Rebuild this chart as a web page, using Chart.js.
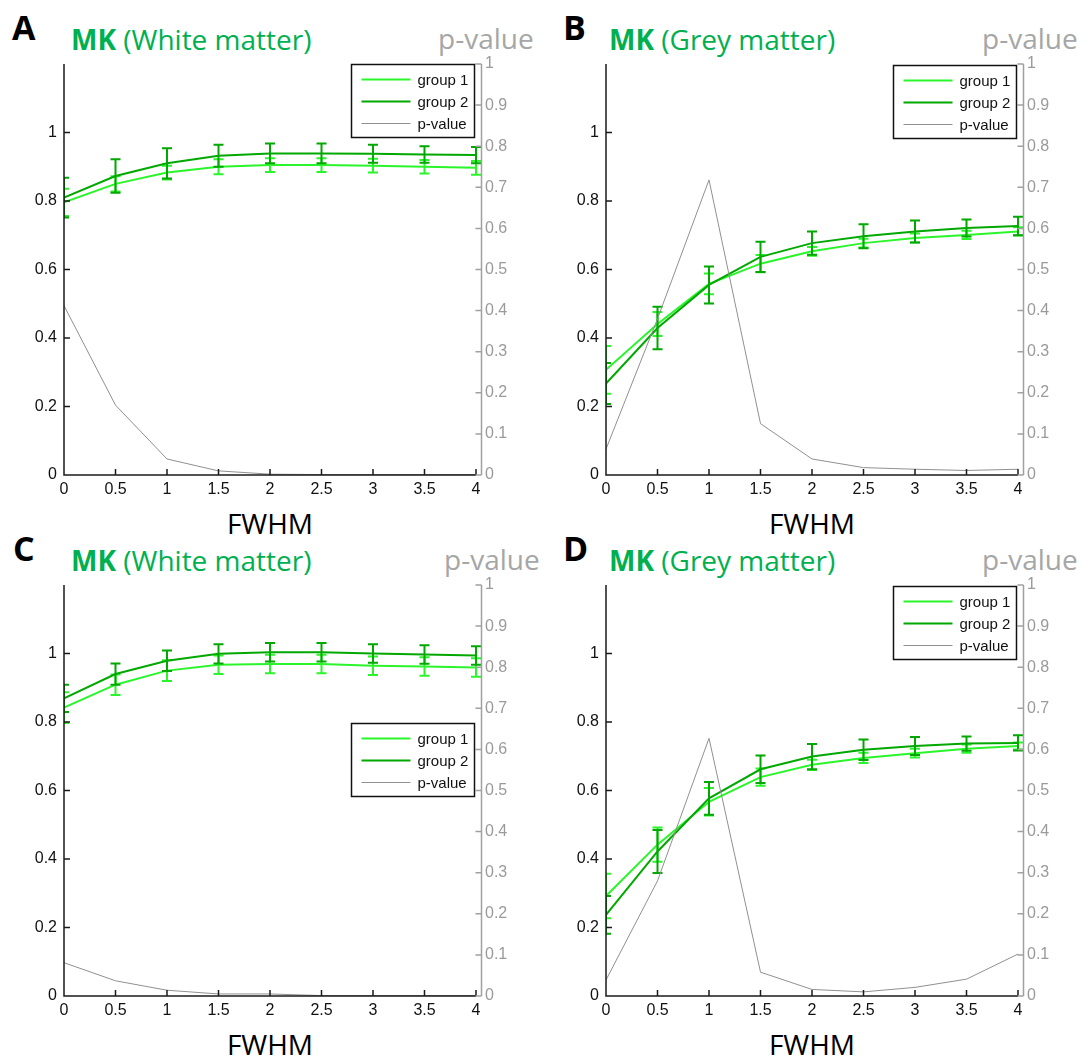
<!DOCTYPE html>
<html>
<head>
<meta charset="utf-8">
<script src="https://cdn.jsdelivr.net/npm/chart.js@4.4.1/dist/chart.umd.min.js"></script>
<style>
  body { margin: 0; background: #fff; }
  #fig { position: relative; width: 1081px; height: 1059px; overflow: hidden; font-family: 'Open Sans', sans-serif; }
  #fig canvas { position: absolute; }
  .letter { position: absolute; font-weight: 700; font-size: 34px; line-height: 1; color: #000; }
  .title { position: absolute; font-size: 28px; line-height: 1; color: #00b050; white-space: nowrap; }
  .title b { font-weight: 700; }
  .pv { position: absolute; font-size: 28px; line-height: 1; color: #a6a6a6; white-space: nowrap; }
  .xlab { position: absolute; width: 200px; text-align: center; font-size: 28px; line-height: 1; color: #000; }
</style>
</head>
<body>
<div id="fig"></div>
<script>
// FWHM smoothing kernel (x axis)
const fwhm = [0, 0.5, 1, 1.5, 2, 2.5, 3, 3.5, 4];
const xTicks = [0, 0.5, 1, 1.5, 2, 2.5, 3, 3.5, 4];
const leftTicks = [0, 0.2, 0.4, 0.6, 0.8, 1];
const rightTicks = [0, 0.1, 0.2, 0.3, 0.4, 0.5, 0.6, 0.7, 0.8, 0.9, 1];
const legendLabels = ['group 1', 'group 2', 'p-value'];

// A - MK, white matter
const aGroup1 = [0.796, 0.850, 0.883, 0.900, 0.905, 0.905, 0.903, 0.900, 0.897];
const aGroup1Err = [0.040, 0.022, 0.020, 0.022, 0.020, 0.020, 0.020, 0.020, 0.020];
const aGroup2 = [0.810, 0.873, 0.910, 0.932, 0.939, 0.939, 0.938, 0.936, 0.934];
const aGroup2Err = [0.058, 0.049, 0.044, 0.032, 0.029, 0.029, 0.026, 0.024, 0.024];
const aPValue = [0.412, 0.170, 0.039, 0.010, 0.002, 0.001, 0.001, 0.001, 0.001];

// B - MK, grey matter
const bGroup1 = [0.307, 0.441, 0.558, 0.617, 0.653, 0.677, 0.692, 0.701, 0.711];
const bGroup1Err = [0.070, 0.035, 0.030, 0.025, 0.013, 0.013, 0.013, 0.012, 0.012];
const bGroup2 = [0.267, 0.429, 0.555, 0.637, 0.677, 0.697, 0.711, 0.721, 0.727];
const bGroup2Err = [0.060, 0.062, 0.054, 0.044, 0.034, 0.035, 0.032, 0.025, 0.027];
const bPValue = [0.063, 0.380, 0.718, 0.125, 0.039, 0.018, 0.014, 0.011, 0.014];

// C - MK, white matter
const cGroup1 = [0.842, 0.909, 0.950, 0.967, 0.969, 0.969, 0.964, 0.962, 0.959];
const cGroup1Err = [0.045, 0.030, 0.030, 0.027, 0.027, 0.027, 0.027, 0.027, 0.027];
const cGroup2 = [0.869, 0.940, 0.979, 0.999, 1.004, 1.004, 1.000, 0.997, 0.994];
const cGroup2Err = [0.040, 0.031, 0.030, 0.028, 0.027, 0.027, 0.027, 0.027, 0.027];
const cPValue = [0.081, 0.037, 0.014, 0.005, 0.005, 0.001, 0.001, 0.001, 0.001];

// D - MK, grey matter
const dGroup1 = [0.292, 0.442, 0.567, 0.639, 0.675, 0.695, 0.709, 0.722, 0.730];
const dGroup1Err = [0.065, 0.050, 0.040, 0.025, 0.015, 0.015, 0.013, 0.012, 0.010];
const dGroup2 = [0.237, 0.422, 0.577, 0.662, 0.699, 0.719, 0.730, 0.737, 0.739];
const dGroup2Err = [0.055, 0.063, 0.048, 0.040, 0.037, 0.030, 0.026, 0.021, 0.022];
const dPValue = [0.039, 0.280, 0.627, 0.058, 0.016, 0.010, 0.021, 0.041, 0.102];

const G1 = '#2af52a';
const G2 = '#00a800';
const PV = '#909090';
const TICK_FONT = { family: "'Liberation Sans', Arial, sans-serif", size: 16 };

// canvas geometry (plot box inside each canvas)
const W = 539, H = 520;
const PLOT = { left: 64, top: 64, right: 476, bottom: 475 };

const panels = [
  { id: 'A', dx: 0,   dy: 0,   letterX: 12,  titleX: 71,  pvX: 438,  title: 'White matter', g1: aGroup1, e1: aGroup1Err, g2: aGroup2, e2: aGroup2Err, pv: aPValue, legendTop: 0 },
  { id: 'B', dx: 542, dy: 0,   letterX: 563, titleX: 609, pvX: 982,  title: 'Grey matter',  g1: bGroup1, e1: bGroup1Err, g2: bGroup2, e2: bGroup2Err, pv: bPValue, legendTop: 1 },
  { id: 'C', dx: 0,   dy: 521, letterX: 13,  titleX: 71,  pvX: 444,  title: 'White matter', g1: cGroup1, e1: cGroup1Err, g2: cGroup2, e2: cGroup2Err, pv: cPValue, legendTop: 138 },
  { id: 'D', dx: 542, dy: 521, letterX: 563, titleX: 609, pvX: 982,  title: 'Grey matter',  g1: dGroup1, e1: dGroup1Err, g2: dGroup2, e2: dGroup2Err, pv: dPValue, legendTop: 1 },
];

function pts(vals) { return fwhm.map((x, i) => ({ x: x, y: vals[i] })); }

// vertical error bars with caps, drawn right after their own line
const errorBars = {
  id: 'errorBars',
  afterDatasetDraw(chart, args) {
    const ds = chart.data.datasets[args.index];
    if (!ds.errors) return;
    const { ctx, chartArea } = chart;
    const xs = chart.scales.x, ys = chart.scales[ds.yAxisID];
    ctx.save();
    ctx.beginPath();
    ctx.rect(chartArea.left, chartArea.top - 20, chartArea.right - chartArea.left + 10, chartArea.bottom - chartArea.top + 40);
    ctx.clip();
    ctx.strokeStyle = ds.borderColor;
    ctx.lineWidth = 2;
    ctx.beginPath();
    ds.data.forEach((p, i) => {
      const px = xs.getPixelForValue(p.x);
      const hi = ys.getPixelForValue(p.y + ds.errors[i]);
      const lo = ys.getPixelForValue(p.y - ds.errors[i]);
      ctx.moveTo(px, hi); ctx.lineTo(px, lo);
      ctx.moveTo(px - 5, hi); ctx.lineTo(px + 5, hi);
      ctx.moveTo(px - 5, lo); ctx.lineTo(px + 5, lo);
    });
    ctx.stroke();
    ctx.restore();
  }
};

// matlab-style axes: black left/bottom, grey right axis, inward ticks
const axesFrame = {
  id: 'axesFrame',
  afterDraw(chart) {
    const { ctx, chartArea: { left, right, top, bottom } } = chart;
    const xs = chart.scales.x, ys = chart.scales.y, y1 = chart.scales.y1;
    ctx.save();
    ctx.lineWidth = 1.5;
    ctx.strokeStyle = '#1a1a1a';
    ctx.beginPath();
    ctx.moveTo(left, top); ctx.lineTo(left, bottom); ctx.lineTo(right, bottom);
    leftTicks.forEach(v => { const py = ys.getPixelForValue(v); ctx.moveTo(left, py); ctx.lineTo(left + 6, py); });
    xTicks.forEach(v => { const px = xs.getPixelForValue(v); ctx.moveTo(px, bottom); ctx.lineTo(px, bottom - 6); });
    ctx.stroke();
    const rx = right + 5.5;
    ctx.strokeStyle = '#a0a0a0';
    ctx.beginPath();
    ctx.moveTo(rx, top); ctx.lineTo(rx, bottom);
    rightTicks.forEach(v => { const py = y1.getPixelForValue(v); ctx.moveTo(rx, py); ctx.lineTo(rx - 6, py); });
    ctx.stroke();
    ctx.restore();
  }
};

// boxed legend in the upper right of the plot
const boxLegend = {
  id: 'boxLegend',
  afterDraw(chart, args, opts) {
    const { ctx, chartArea } = chart;
    const bw = 123, bh = 73;
    const bx = Math.round(chartArea.right - 2 - bw) + 0.5;
    const by = Math.round(chartArea.top + opts.top) + 0.5;
    ctx.save();
    ctx.fillStyle = '#fff';
    ctx.fillRect(bx, by, bw, bh);
    ctx.lineWidth = 1.5;
    ctx.strokeStyle = '#111';
    ctx.strokeRect(bx, by, bw, bh);
    ctx.font = "15px 'Liberation Sans', Arial, sans-serif";
    ctx.textBaseline = 'middle';
    ctx.fillStyle = '#111';
    chart.data.datasets.forEach((ds, i) => {
      const ly = by + 15 + i * 22;
      ctx.strokeStyle = ds.borderColor;
      ctx.lineWidth = ds.borderWidth;
      ctx.beginPath(); ctx.moveTo(bx + 10, ly); ctx.lineTo(bx + 59, ly); ctx.stroke();
      ctx.fillText(legendLabels[i], bx + 66, ly + 1);
    });
    ctx.restore();
  }
};

function fixedTicks(arr) { return s => { s.ticks = arr.map(v => ({ value: v })); }; }

const fig = document.getElementById('fig');
panels.forEach(p => {
  fig.insertAdjacentHTML('beforeend',
    '<div class="letter" style="left:' + p.letterX + 'px;top:' + (p.dy + 10) + 'px">' + p.id + '</div>' +
    '<div class="title" style="left:' + p.titleX + 'px;top:' + (p.dy + 24.5) + 'px"><b>MK</b> (' + p.title + ')</div>' +
    '<div class="pv" style="left:' + p.pvX + 'px;top:' + (p.dy + 23.5) + 'px">p-value</div>' +
    '<div class="xlab" style="left:' + (p.dx + 270 - 100) + 'px;top:' + (p.dy + 509) + 'px">FWHM</div>' +
    '<canvas id="c' + p.id + '" width="' + W + '" height="' + H + '" style="left:' + p.dx + 'px;top:' + p.dy + 'px"></canvas>');
});

panels.forEach(p => {
  new Chart(document.getElementById('c' + p.id), {
    type: 'line',
    data: {
      datasets: [
        { label: 'group 1', data: pts(p.g1), errors: p.e1, borderColor: G1, borderWidth: 2, yAxisID: 'y', order: 3 },
        { label: 'group 2', data: pts(p.g2), errors: p.e2, borderColor: G2, borderWidth: 2, yAxisID: 'y', order: 2 },
        { label: 'p-value', data: pts(p.pv), borderColor: PV, borderWidth: 1, yAxisID: 'y1', order: 1 },
      ],
    },
    options: {
      responsive: false, animation: false, devicePixelRatio: 1,
      layout: { padding: { top: PLOT.top, left: 0, right: 0, bottom: 0 } },
      elements: { point: { radius: 0 }, line: { tension: 0, fill: false } },
      scales: {
        x: {
          type: 'linear', min: 0, max: 4,
          afterBuildTicks: fixedTicks(xTicks),
          afterFit: s => { s.height = H - PLOT.bottom; },
          grid: { display: false, drawTicks: false }, border: { display: false },
          ticks: { padding: 5, color: '#111', font: TICK_FONT, maxRotation: 0, autoSkip: false, callback: v => String(v) },
        },
        y: {
          position: 'left', min: 0, max: 1.2,
          afterBuildTicks: fixedTicks(leftTicks),
          afterFit: s => { s.width = PLOT.left; },
          grid: { display: false, drawTicks: false }, border: { display: false },
          ticks: { padding: 7, color: '#111', font: TICK_FONT, autoSkip: false, callback: v => String(v) },
        },
        y1: {
          position: 'right', min: 0, max: 1,
          afterBuildTicks: fixedTicks(rightTicks),
          afterFit: s => { s.width = W - PLOT.right; },
          grid: { display: false, drawTicks: false }, border: { display: false },
          ticks: { padding: 9, color: '#9a9a9a', font: TICK_FONT, autoSkip: false, callback: v => String(v) },
        },
      },
      plugins: { legend: { display: false }, tooltip: { enabled: false }, boxLegend: { top: p.legendTop } },
    },
    plugins: [errorBars, axesFrame, boxLegend],
  });
});
</script>
</body>
</html>
